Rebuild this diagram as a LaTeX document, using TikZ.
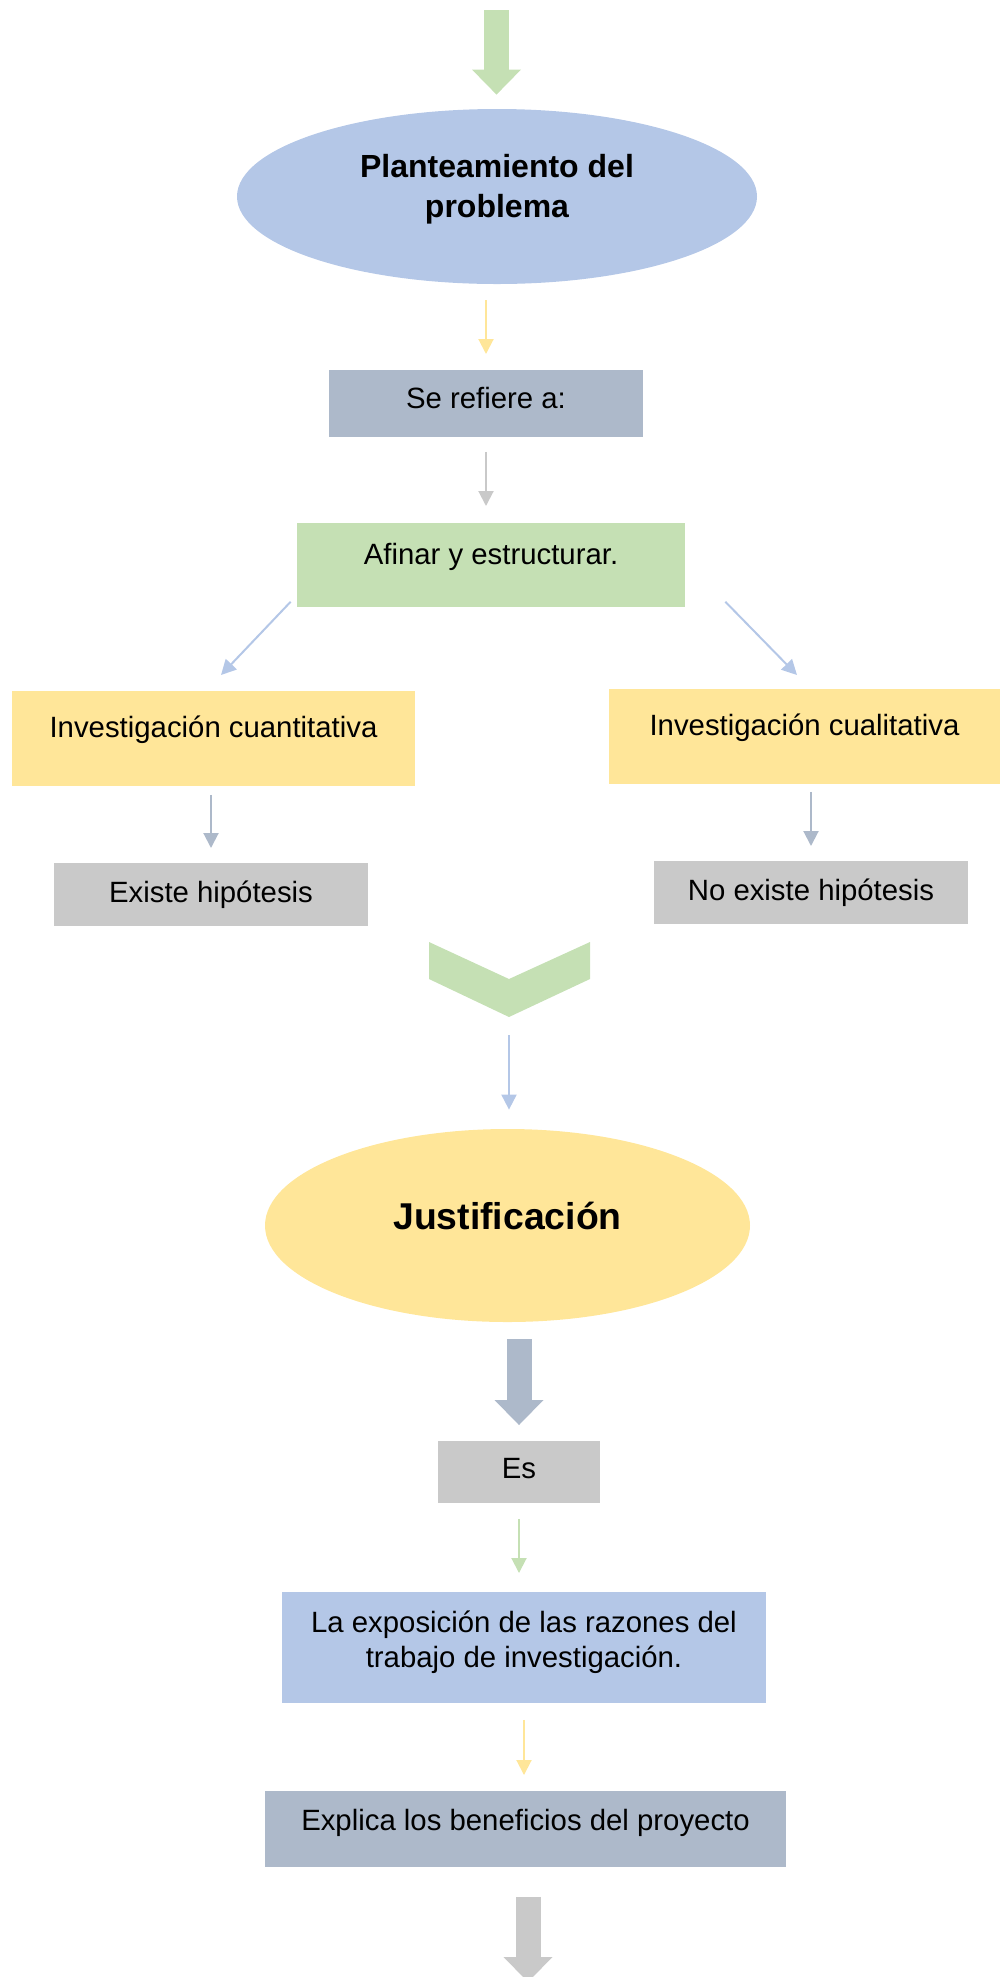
\documentclass[tikz,border=0pt]{standalone}
\usepackage{fontspec}
\setmainfont{Liberation Sans}
\usetikzlibrary{shapes.geometric, arrows.meta, positioning}

\definecolor{azulclaro}{HTML}{B4C7E7}
\definecolor{amarillo}{HTML}{FFE699}
\definecolor{grisazul}{HTML}{ADB9CA}
\definecolor{verde}{HTML}{C5E0B4}
\definecolor{gris}{HTML}{C9C9C9}

\newcommand{\texto}{\fontsize{14.67}{17.5}\selectfont}

\begin{document}
\begin{tikzpicture}[x=0.5pt, y=-0.5pt,
        caja/.style={rectangle, inner sep=0pt, anchor=north, font=\texto,
            align=center},
        elipse/.style={ellipse, inner sep=0pt, align=center},
        flecha/.style={line width=1pt, -{Triangle[width=7.5pt,
            length=7.5pt]}},
        bloque/.style={line width=12.5pt, -{Triangle[width=24.5pt,
            length=12.5pt, line width=0pt]}},
    ]
    \useasboundingbox (0,0) rectangle (1000,1977);

    % planteamiento
    \node[elipse, fill=azulclaro, minimum width=260pt, minimum height=87.5pt,
        text height=30pt, text depth=9.5pt,
        font=\fontsize{16}{20}\selectfont\bfseries] (plant) at (497,196.5)
        {Planteamiento del\\problema};

    \node[caja, fill=grisazul, minimum width=157pt, text height=19pt,
        text depth=14.5pt] (serefiere) at (486,370) {Se refiere a:};

    \node[caja, fill=verde, minimum width=194pt, text height=20.5pt,
        text depth=21.5pt] (afinar) at (491,523) {Afinar y estructurar.};

    \node[caja, fill=amarillo, minimum width=201.5pt, text height=23pt,
        text depth=24.5pt] (cuant) at (213.5,691)
        {Investigación cuantitativa};

    \node[caja, fill=amarillo, minimum width=195.5pt, text height=23pt,
        text depth=24.5pt] (cual) at (804.5,689)
        {Investigación cualitativa};

    \node[caja, fill=gris, minimum width=157pt, text height=19.5pt,
        text depth=12pt] (existe) at (211,863) {Existe hipótesis};

    \node[caja, fill=gris, minimum width=157pt, text height=19.5pt,
        text depth=12pt] (noexiste) at (811,861) {No existe hipótesis};

    \fill[verde] (429,942) -- (509,979) -- (590,942) -- (590,979)
        -- (509,1017) -- (429,979) -- cycle;
    \coordinate (chevpunta) at (509,1017);

    % justificacion
    \node[elipse, fill=amarillo, minimum width=242.5pt,
        minimum height=96.5pt, text height=14.5pt, text depth=10.5pt,
        font=\fontsize{18.67}{22}\selectfont\bfseries] (just)
        at (507.5,1225.5) {Justificación};

    \node[caja, fill=gris, minimum width=81pt, text height=18.5pt,
        text depth=12.5pt] (es) at (519,1441) {Es};

    \node[caja, fill=azulclaro, minimum width=242pt, text height=37.5pt,
        text depth=18pt] (expo) at (524,1592)
        {La exposición de las razones del\\trabajo de investigación.};

    \node[caja, fill=grisazul, minimum width=260.5pt, text height=19.5pt,
        text depth=18.5pt] (explica) at (525.5,1791)
        {Explica los beneficios del proyecto};

    \coordinate (inicio) at (496.5,10);
    \coordinate (fin) at (528,1982);

    % flechas
    \draw[bloque, verde, shorten >=7pt] (inicio) -- (inicio |- plant.north);
    \draw[flecha, amarillo, shorten <=8pt, shorten >=8pt]
        (serefiere.north |- plant.south) -- (serefiere.north);
    \draw[flecha, gris, shorten <=7pt, shorten >=8.5pt]
        (serefiere.south) -- (serefiere.south |- afinar.north);
    \draw[flecha, azulclaro] ([xshift=-3pt, yshift=3pt]afinar.south west)
        -- ([xshift=3.75pt, yshift=8pt]cuant.north);
    \draw[flecha, azulclaro] ([xshift=20pt, yshift=3pt]afinar.south east)
        -- ([xshift=-3.75pt, yshift=7pt]cual.north);
    \draw[flecha, grisazul, shorten <=4pt, shorten >=7.5pt]
        (cuant.south -| existe.north) -- (existe.north);
    \draw[flecha, grisazul, shorten <=3.5pt, shorten >=7.5pt]
        (cual.south -| noexiste.north) -- (noexiste.north);
    \draw[flecha, azulclaro, shorten <=9pt, shorten >=9.5pt]
        (chevpunta) -- (chevpunta |- just.north);
    \draw[bloque, grisazul, shorten <=8.5pt, shorten >=8pt]
        (es.north |- just.south) -- (es.north);
    \draw[flecha, verde, shorten <=7.5pt, shorten >=9.5pt]
        (es.south) -- (es.south |- expo.north);
    \draw[flecha, amarillo, shorten <=8pt, shorten >=8pt]
        (expo.south) -- (expo.south |- explica.north);
    \draw[bloque, gris, shorten <=14.5pt] (explica.south -| fin) -- (fin);
\end{tikzpicture}
\end{document}
